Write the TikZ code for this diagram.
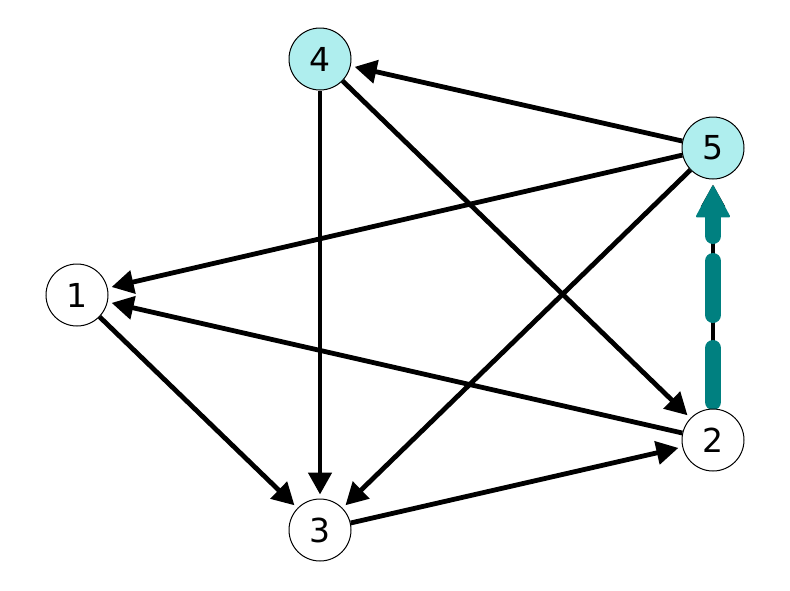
\documentclass[tikz,border=0pt]{standalone}
\usepackage{fontspec}
\setmainfont{DejaVu Sans}
\usetikzlibrary{arrows.meta}
\pgfdeclarelayer{background}
\pgfsetlayers{background,main}
\definecolor{tealc}{HTML}{008080}
\definecolor{paleturq}{HTML}{AFEEEE}
\tikzset{
  vert/.style={circle, draw=black, line width=1pt, fill=white, minimum size=62pt, inner sep=0pt, font=\fontsize{33}{33}\selectfont},
  hl/.style={vert, fill=paleturq},
  edge/.style={line width=4.8pt, -{Triangle[length=22pt,width=23pt]}, shorten >=4pt},
  tealedge/.style={line width=16pt, color=tealc, line cap=round, dash pattern=on 54pt off 33pt on 54pt off 25pt on 80pt, -{Triangle[length=33pt,width=35pt,line width=2pt,round]}, shorten >=6pt}
}
\begin{document}
\begin{tikzpicture}[x=1pt,y=-1pt]
\useasboundingbox (0,0) rectangle (790,590);
\node[vert] (n1) at (77,295) {1};
\node[vert] (n2) at (713,440) {2};
\node[vert] (n3) at (320,530) {3};
\node[hl]   (n4) at (320,59) {4};
\node[hl]   (n5) at (713,148) {5};
\begin{pgfonlayer}{background}
\draw[edge] (n5) -- (n4);
\draw[edge] (n5) -- (n1);
\draw[edge] (n5) -- (n3);
\draw[edge] (n4) -- (n3);
\draw[edge] (n4) -- (n2);
\draw[edge] (n1) -- (n3);
\draw[edge] (n2) -- (n1);
\draw[edge] (n3) -- (n2);
\draw[edge, shorten >=5pt] (n2) -- (n5);
\draw[tealedge, shorten <=38pt] (n2.center) -- (n5);
\end{pgfonlayer}
\end{tikzpicture}
\end{document}
